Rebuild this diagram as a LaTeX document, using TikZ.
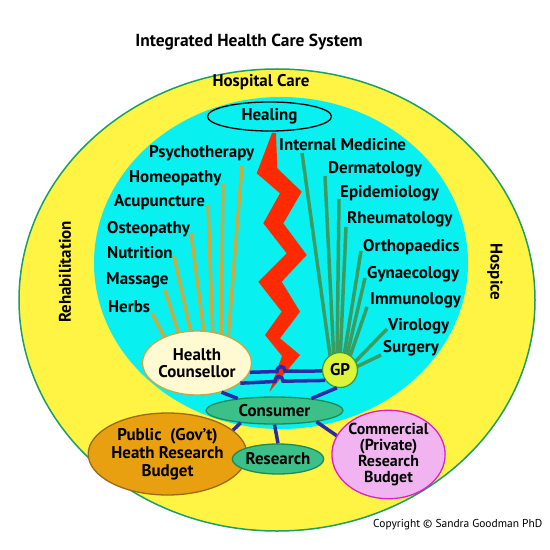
\documentclass[tikz,border=0pt]{standalone}
\usepackage{fontspec}
\setmainfont{PT Sans}
\usetikzlibrary{shapes.geometric}
\definecolor{yel}{HTML}{FFF344}
\definecolor{cyn}{HTML}{08F0F0}
\definecolor{rimgreen}{HTML}{1A9E6A}
\definecolor{tanline}{HTML}{C4AE44}
\definecolor{grnline}{HTML}{3A9C60}
\definecolor{boltred}{HTML}{FF2A00}
\definecolor{blu}{HTML}{2A2AA6}
\definecolor{cream}{HTML}{FFFAD2}
\definecolor{creamrim}{HTML}{C8A840}
\definecolor{gpfill}{HTML}{DCF53A}
\definecolor{gprim}{HTML}{3A9E3A}
\definecolor{consfill}{HTML}{3CC08A}
\definecolor{consrim}{HTML}{1E8A55}
\definecolor{pubfill}{HTML}{E8A010}
\definecolor{pubrim}{HTML}{9A6A14}
\definecolor{comfill}{HTML}{F2B4F0}
\definecolor{comrim}{HTML}{E01ECF}
\begin{document}
\begin{tikzpicture}[x=1bp,y=-1bp,
  lbl/.style={font=\bfseries\fontsize{17}{19}\selectfont, inner sep=0pt, text height=12.5bp, text depth=2bp},
  blk/.style={font=\bfseries\fontsize{17}{18}\selectfont, inner sep=0pt, align=center},
  oval/.style={ellipse, inner sep=0pt, line width=1.3bp},
  tanspoke/.style={draw=tanline, line width=3.5bp},
  grnspoke/.style={draw=grnline, line width=3.5bp},
  blueline/.style={draw=blu, line width=3.5bp}]
\useasboundingbox (0,0) rectangle (550,550);
\fill[white] (0,0) rectangle (550,550);
% rings
\draw[fill=yel, draw=rimgreen, line width=1.5bp] (277,300) ellipse [x radius=258, y radius=231];
\fill[cyn] (281,263) ellipse [x radius=187, y radius=166];
% title and ring labels
\node[blk, font=\bfseries\fontsize{17.5}{19}\selectfont] (title) at (249,42) {Integrated Health Care System};
\node[blk] (hosp) at (261,82) {Hospital Care};
\node[blk, rotate=90] (rehab) at (65,272) {Rehabilitation};
\node[blk, rotate=-90] (hospice) at (495,272) {Hospice};
\node[oval, draw=black, fill=cyn, minimum width=124bp, minimum height=29bp, blk] (heal) at (269.5,116.5) {Healing};
% left labels
\node[lbl, anchor=west] (psy) at (149,152) {Psychotherapy};
\node[lbl, anchor=west] (hom) at (129,177) {Homeopathy};
\node[lbl, anchor=west] (acu) at (114,201) {Acupuncture};
\node[lbl, anchor=west] (ost) at (107,228) {Osteopathy};
\node[lbl, anchor=west] (nut) at (107,253) {Nutrition};
\node[lbl, anchor=west] (mas) at (106,279) {Massage};
\node[lbl, anchor=west] (her) at (108,307) {Herbs};
% right labels
\node[lbl, anchor=west] (int) at (279,145) {Internal Medicine};
\node[lbl, anchor=west] (der) at (328,168) {Dermatology};
\node[lbl, anchor=west] (epi) at (340,192) {Epidemiology};
\node[lbl, anchor=west] (rhe) at (347,218) {Rheumatology};
\node[lbl, anchor=west] (ort) at (363,246) {Orthopaedics};
\node[lbl, anchor=west] (gyn) at (367,273) {Gynaecology};
\node[lbl, anchor=west] (imm) at (370,299) {Immunology};
\node[lbl, anchor=west] (vir) at (388,325) {Virology};
\node[lbl, anchor=west] (sur) at (383,347) {Surgery};
% spoke end points
\coordinate (psyA) at (242,166); \coordinate (psyB) at (228,340);
\coordinate (homA) at (223,184); \coordinate (homB) at (221,340);
\coordinate (acuA) at (208,205); \coordinate (acuB) at (213,340);
\coordinate (ostA) at (191,233); \coordinate (ostB) at (205,340);
\coordinate (nutA) at (174,256); \coordinate (nutB) at (193,342);
\coordinate (masA) at (165,290); \coordinate (masB) at (182,344);
\coordinate (herA) at (152,313); \coordinate (herB) at (170,348);
\foreach \s in {psy,hom,acu,ost,nut,mas,her} \draw[tanspoke] (\s A) -- (\s B);
\coordinate (intA) at (302,153); \coordinate (intB) at (331,362);
\coordinate (derA) at (325,176); \coordinate (derB) at (334,362);
\coordinate (epiA) at (339,199); \coordinate (epiB) at (337,362);
\coordinate (rheA) at (346,227); \coordinate (rheB) at (340,362);
\coordinate (ortA) at (361,251); \coordinate (ortB) at (343,362);
\coordinate (gynA) at (365,278); \coordinate (gynB) at (345,364);
\coordinate (immA) at (367,307); \coordinate (immB) at (347,365);
\coordinate (virA) at (387,329); \coordinate (virB) at (350,367);
\coordinate (surA) at (381,355); \coordinate (surB) at (352,369);
\foreach \s in {int,der,epi,rhe,ort,gyn,imm,vir,sur} \draw[grnspoke] (\s A) -- (\s B);
% lightning
\fill[boltred] (272,133) -- (276,133) -- (277.3,168.3) -- (301.7,191.7) -- (283.3,223.3)
  -- (306.7,255) -- (281.7,281.7) -- (300,311.7) -- (280,338.3) -- (300,355)
  -- (269.5,391.7) -- (282,356) -- (265,335) -- (281.7,311.7) -- (258.3,281.7)
  -- (286.7,253.3) -- (263.3,223.3) -- (280,193.3) -- (256.7,173.3) -- cycle;
% nodes
\node[oval, draw=creamrim, fill=cream, minimum width=100bp, minimum height=64bp, blk] (hc) at (197,363) {Health\\[-1bp]Counsellor};
\node[circle, inner sep=0pt, line width=1.3bp, draw=gprim, fill=gpfill, minimum size=35bp, blk] (gp) at (340,370) {GP};
\node[oval, draw=consrim, fill=consfill, minimum width=137bp, minimum height=27bp, blk] (cons) at (274.5,410.5) {Consumer};
\node[oval, draw=pubrim, fill=pubfill, minimum width=121bp, minimum height=82bp, blk] (pub) at (167.5,454) {Public\ \ (Gov't)\\Heath Research\\Budget};
\node[oval, draw=consrim, fill=consfill, minimum width=86bp, minimum height=30bp, blk] (res) at (278,459) {Research};
\node[oval, draw=comrim, fill=comfill, minimum width=109bp, minimum height=81bp, blk, font=\bfseries\fontsize{16}{16}\selectfont] (com) at (388.5,454.5) {Commercial\\(Private)\\Research\\Budget};
% blue connectors
\draw[blueline] (hc.-10) -- (277,371.5) .. controls (277,365) and (285,365) .. (285,371.2) -- (gp.183);
\draw[blueline] (hc.-25) -- (275,381.5) .. controls (275,375) and (283,375) .. (283,381.2) -- (gp.215);
\draw[blueline] (hc.-50) -- (cons.162);
\draw[blueline] (cons.18) -- (gp.-100);
\draw[blueline] (cons.-160) -- (pub.20);
\draw[blueline] (cons.south) -- (res.north);
\draw[blueline] (cons.-15) -- (com.160);
% copyright
\node[inner sep=0pt, font=\fontsize{11.5}{13}\selectfont, anchor=west] (copy) at (373,525) {Copyright © Sandra Goodman PhD};
\end{tikzpicture}
\end{document}
